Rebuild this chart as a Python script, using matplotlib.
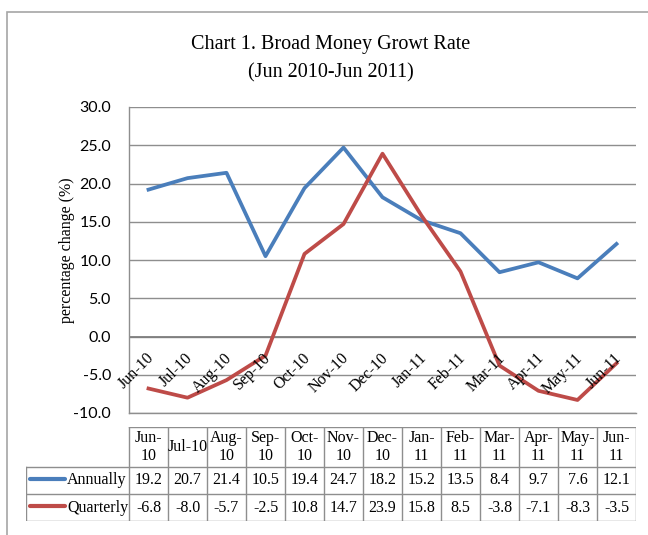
import numpy as np
import matplotlib
matplotlib.use('Agg')
import matplotlib.pyplot as plt
from matplotlib.patches import Rectangle

# data
months = ['Jun-10', 'Jul-10', 'Aug-10', 'Sep-10', 'Oct-10', 'Nov-10', 'Dec-10',
          'Jan-11', 'Feb-11', 'Mar-11', 'Apr-11', 'May-11', 'Jun-11']
header_labels = ['Jun-\n10', 'Jul-10', 'Aug-\n10', 'Sep-\n10', 'Oct-\n10', 'Nov-\n10',
                 'Dec-\n10', 'Jan-\n11', 'Feb-\n11', 'Mar-\n11', 'Apr-\n11', 'May-\n11',
                 'Jun-\n11']
annually = [19.2, 20.7, 21.4, 10.5, 19.4, 24.7, 18.2, 15.2, 13.5, 8.4, 9.7, 7.6, 12.1]
quarterly = [-6.8, -8.0, -5.7, -2.5, 10.8, 14.7, 23.9, 15.8, 8.5, -3.8, -7.1, -8.3, -3.5]
yticks = [-10, -5, 0, 5, 10, 15, 20, 25, 30]

blue = '#4A7EBB'
red = '#BE4B48'
grid_c = '#8e8e8e'
serif = 'Liberation Serif'

W, H = 648, 535
def box(x0, y0, x1, y1):
    # pixel box (top-left origin) -> figure fraction rect
    return [x0 / W, 1 - y1 / H, (x1 - x0) / W, (y1 - y0) / H]

fig = plt.figure(figsize=(W / 100, H / 100), dpi=100)

# outer frame (runs off the right and bottom edges)
fig.patches.append(Rectangle((7 / W, -0.1), 2, 1 - 12 / H + 0.1, transform=fig.transFigure,
                             fill=False, ec='#a6a6a6', lw=1.2))

fig.text(331 / W, 1 - 44 / H, 'Chart 1. Broad Money Growt Rate', ha='center', va='center',
         family=serif, fontsize=14.5)
fig.text(331 / W, 1 - 73 / H, '(Jun 2010-Jun 2011)', ha='center', va='center',
         family=serif, fontsize=14.5)
fig.text(67 / W, 1 - 250 / H, 'percentage change (%)', rotation=90, ha='center', va='center',
         family=serif, fontsize=11.5)

# main plot
left, right = 129, 636
ax = fig.add_axes(box(left, 107, right, 413))
x = np.arange(len(months))
ax.plot(x, annually, color=blue, lw=2.7, zorder=3)
ax.plot(x, quarterly, color=red, lw=2.7, zorder=3)
ax.set_xlim(-0.5, len(months) - 0.5)
ax.set_ylim(-10, 30)
ax.set_yticks(yticks)
ax.set_yticklabels(['%.1f' % v for v in yticks], family='Lato', fontsize=11.5)
ax.tick_params(axis='y', length=0, pad=13)
ax.set_xticks([])
ax.grid(axis='y', color=grid_c, lw=1.0)
ax.set_axisbelow(True)
ax.axhline(0, color='#7f7f7f', lw=1.3, zorder=1)
for s in ['top', 'right']:
    ax.spines[s].set_visible(False)
for s in ['left', 'bottom']:
    ax.spines[s].set_color(grid_c)
    ax.spines[s].set_linewidth(1.0)

for i, m in enumerate(months):
    ax.text(i + 0.08, -2.5, m, rotation=45, rotation_mode='anchor', ha='right', va='center',
            family=serif, fontsize=11.5, zorder=4)

# data table under the plot
col_w = (right - left) / len(months)
tab_left = 26
xmin = -0.5 - (left - tab_left) / col_w
tax = fig.add_axes(box(tab_left, 427, right, 521))
tax.set_xlim(xmin, len(months) - 0.5)
tax.set_ylim(0, 94)
tax.axis('off')

n = len(months)
lc = dict(color=grid_c, lw=1.0)
tax.plot([-0.5, n - 0.5], [94, 94], **lc)
for yy in [54, 27, 0]:
    tax.plot([xmin, n - 0.5], [yy, yy], **lc)
for k in range(n + 1):
    tax.plot([k - 0.5, k - 0.5], [0, 94], **lc)
tax.plot([xmin, xmin], [0, 54], **lc)

for i in range(n):
    tax.text(i, 74, header_labels[i], ha='center', va='center', family=serif, fontsize=11.5,
             linespacing=1.15)
    tax.text(i, 40.5, '%.1f' % annually[i], ha='center', va='center', family=serif, fontsize=11.5)
    tax.text(i, 13.5, '%.1f' % quarterly[i], ha='center', va='center', family=serif, fontsize=11.5)

def px_to_x(p):
    return xmin + (p - tab_left) / col_w

for yy, name, c in [(40.5, 'Annually', blue), (13.5, 'Quarterly', red)]:
    tax.plot([px_to_x(30), px_to_x(65)], [yy + 1.5, yy + 1.5], color=c, lw=3,
             solid_capstyle='round')
    tax.text(px_to_x(67), yy, name, ha='left', va='center', family=serif, fontsize=11.5)

fig.savefig('out.png', dpi=100)
